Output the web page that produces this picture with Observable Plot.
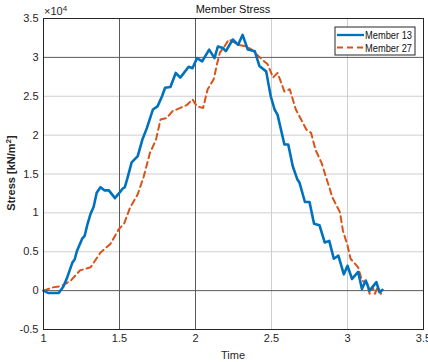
<!DOCTYPE html>
<html><head><meta charset="utf-8">
<script src="https://cdn.jsdelivr.net/npm/d3@7"></script>
<script src="https://cdn.jsdelivr.net/npm/@observablehq/plot@0.6"></script>
<style>body{margin:0;background:#fff} svg{display:block}</style>
</head><body><div id="chart"></div>
<script>
// Member 13 (solid blue)
const time13 = [1.00,1.03,1.06,1.10,1.13,1.156,1.19,1.205,1.22,1.255,1.27,1.29,1.31,1.33,1.35,1.375,1.40,1.43,1.47,1.50,1.52,1.535,1.55,1.58,1.62,1.65,1.68,1.72,1.75,1.78,1.80,1.835,1.87,1.90,1.955,1.98,2.01,2.044,2.09,2.125,2.147,2.18,2.20,2.245,2.28,2.31,2.344,2.39,2.42,2.465,2.495,2.52,2.54,2.585,2.61,2.64,2.67,2.684,2.72,2.75,2.78,2.816,2.85,2.88,2.91,2.94,2.976,3.00,3.03,3.07,3.095,3.12,3.145,3.19,3.21,3.23];
const stress13 = [0,-300,-300,-300,500,1700,3600,4000,5100,6700,7000,8600,9900,10800,12600,13300,12900,12900,11900,12600,13100,13300,14300,16500,17300,19400,20900,23300,23700,25000,26100,26200,28000,27400,28800,28600,29900,29500,31000,29900,31400,31200,30800,32300,31600,32900,31000,30800,28900,28200,25000,23300,22600,18800,18800,16000,14300,13900,11400,11400,8600,8400,6200,6400,4100,4500,2100,3200,1500,2400,200,1300,0,1100,-200,100];
// Member 27 (dashed orange)
const time27 = [1.00,1.057,1.12,1.18,1.24,1.31,1.375,1.44,1.495,1.53,1.57,1.62,1.66,1.70,1.74,1.77,1.81,1.85,1.90,1.945,1.98,2.01,2.05,2.08,2.12,2.14,2.16,2.19,2.22,2.257,2.29,2.333,2.37,2.40,2.44,2.475,2.51,2.54,2.585,2.62,2.64,2.66,2.695,2.73,2.76,2.79,2.83,2.86,2.88,2.90,2.95,2.97,3.00,3.02,3.07,3.095,3.13,3.145,3.165,3.18,3.20,3.22,3.23];
const stress27 = [0,400,600,1300,2600,3000,4900,6000,7900,8600,10700,12400,14700,17700,19400,22000,22200,23100,23500,23900,24600,23700,23500,25900,27200,29000,30600,31400,32300,31900,31600,31400,31000,30400,29700,29100,27400,28000,25600,25900,24600,23300,22000,20700,20300,18100,16400,14500,13300,12000,10100,7700,5800,4100,3000,1300,900,-400,500,-400,500,-400,0];

const xTicks = [1,1.5,2,2.5,3,3.5];
const yTicks = [-5000,0,5000,10000,15000,20000,25000,30000,35000];
const darkX = [1.5,2];
const darkY = [0,30000];

const series13 = time13.map((t,i)=>({t, s: stress13[i]}));
const series27 = time27.map((t,i)=>({t, s: stress27[i]}));

const W = 428, H = 362;
const chart = Plot.plot({
  width: W, height: H,
  marginLeft: 43, marginRight: 5, marginTop: 18, marginBottom: 33,
  style: {fontFamily: "'Liberation Sans', Arial, sans-serif", fontSize: "11px", color: "#262626", background: "#fff"},
  x: {domain: [1,3.5]},
  y: {domain: [-5000,35000]},
  marks: [
    Plot.ruleX(xTicks.filter(d=>!darkX.includes(d)), {stroke: "#cfcfcf", strokeWidth: 1}),
    Plot.ruleY(yTicks.filter(d=>!darkY.includes(d)), {stroke: "#cfcfcf", strokeWidth: 1}),
    Plot.ruleX(darkX, {stroke: "#5a5a5a", strokeWidth: 1}),
    Plot.ruleY(darkY, {stroke: "#5a5a5a", strokeWidth: 1}),
    Plot.line(series27, {x: "t", y: "s", stroke: "#D95319", strokeWidth: 2, strokeDasharray: "6,4"}),
    Plot.line(series13, {x: "t", y: "s", stroke: "#0072BD", strokeWidth: 2.6}),
    Plot.frame({stroke: "#262626", strokeWidth: 1}),
    Plot.axisX(xTicks, {tickSize: 0, tickPadding: 5, label: null, tickFormat: d=>String(d), fill: "#262626"}),
    Plot.axisY(yTicks, {tickSize: 0, tickPadding: 5, label: null, tickFormat: d=>String(d/1e4), fill: "#262626"})
  ]
});
document.getElementById("chart").appendChild(chart);

const svg = d3.select(chart);
const font = "'Liberation Sans', Arial, sans-serif";
// title
svg.append("text").attr("x", 233).attr("y", 13).attr("text-anchor","middle")
  .attr("font-family", font).attr("font-size", 11).attr("fill","#111").text("Member Stress");
// x label
svg.append("text").attr("x", 233).attr("y", 359).attr("text-anchor","middle")
  .attr("font-family", font).attr("font-size", 11).attr("fill","#262626").text("Time");
// exponent
const ex = svg.append("text").attr("x", 44).attr("y", 15).attr("text-anchor","start")
  .attr("font-family", font).attr("font-size", 11).attr("fill","#262626");
ex.append("tspan").text("×10");
ex.append("tspan").attr("dy", -4).attr("font-size", 8).text("4");
// y label
const yl = svg.append("text").attr("transform","translate(15,173) rotate(-90)").attr("text-anchor","middle")
  .attr("font-family", font).attr("font-size", 11).attr("font-weight","bold").attr("fill","#262626");
yl.append("tspan").text("Stress [kN/m");
yl.append("tspan").attr("dy", -4).attr("font-size", 8).text("2");
yl.append("tspan").attr("dy", 4).text("]");
// legend
const lg = svg.append("g");
lg.append("rect").attr("x", 335).attr("y", 27).attr("width", 80).attr("height", 28)
  .attr("fill","#fff").attr("stroke","#262626").attr("stroke-width",1);
lg.append("line").attr("x1",337).attr("x2",364).attr("y1",35).attr("y2",35)
  .attr("stroke","#0072BD").attr("stroke-width",2.3);
lg.append("line").attr("x1",337).attr("x2",364).attr("y1",47.5).attr("y2",47.5)
  .attr("stroke","#D95319").attr("stroke-width",1.8).attr("stroke-dasharray","6,4");
lg.append("text").attr("x",365).attr("y",39).attr("text-anchor","start").attr("font-family",font).attr("font-size",10).attr("textLength",47).attr("lengthAdjust","spacingAndGlyphs").attr("fill","#111").text("Member 13");
lg.append("text").attr("x",365).attr("y",51.5).attr("text-anchor","start").attr("font-family",font).attr("font-size",10).attr("textLength",47).attr("lengthAdjust","spacingAndGlyphs").attr("fill","#111").text("Member 27");
</script></body></html>
